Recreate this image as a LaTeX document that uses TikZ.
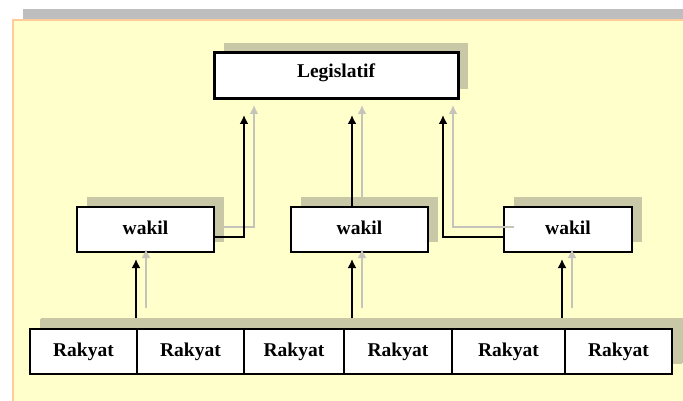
\documentclass[tikz,border=0pt]{standalone}
\usepackage{fontspec}
\setmainfont{Liberation Serif}
\usepackage{tikz}
\usetikzlibrary{arrows.meta, shadows, positioning}
\definecolor{paper}{RGB}{255,255,204}
\definecolor{paperedge}{RGB}{255,204,153}
\definecolor{bandgray}{RGB}{190,190,190}
\definecolor{boxshade}{RGB}{200,200,166}
\definecolor{lineshade}{RGB}{196,196,186}
\tikzstyle{arrow} = [line width=2pt,-{Latex[length=9pt,width=9pt]}]
\tikzstyle{unit} = [rectangle, draw, fill=white, line width=1.2pt, outer sep=0pt, text depth=4.5pt, font=\bfseries\fontsize{19.5}{22}\selectfont, drop shadow={shadow xshift=10pt, shadow yshift=10pt, fill=boxshade, opacity=1}]
\tikzstyle{cell} = [unit, minimum height=45pt, drop shadow={shadow xshift=11pt, shadow yshift=11pt, fill=boxshade, opacity=1}]

\begin{document}
\begin{tikzpicture}[x=1pt, y=-1pt]
\useasboundingbox (0,0) rectangle (683,401);
\clip (0,0) rectangle (683,401);

% background
\fill [bandgray] (23,9) rectangle (690,19);
\draw [paperedge, fill=paper, line width=2pt] (13,20) rectangle (700,420);

% boxes
\node [unit, line width=3pt, text depth=10pt, minimum width=244pt, minimum height=46pt] (leg) at (336,76) {Legislatif};

\node [unit, minimum width=137pt, minimum height=45pt] (w1) at (145.5,229.5) {wakil};
\node [unit, minimum width=137pt, minimum height=45pt] (w2) at (359.5,229.5) {wakil};
\node [unit, minimum width=128pt, minimum height=45pt] (w3) at (568,229.5) {wakil};

\node [cell, minimum width=107pt] (r1) at (83.5,351.5) {Rakyat};
\node [cell, minimum width=107pt] (r2) [right=0pt of r1] {Rakyat};
\node [cell, minimum width=100pt] (r3) [right=0pt of r2] {Rakyat};
\node [cell, minimum width=108pt] (r4) [right=0pt of r3] {Rakyat};
\node [cell, minimum width=113pt] (r5) [right=0pt of r4] {Rakyat};
\node [cell, minimum width=107pt] (r6) [right=0pt of r5] {Rakyat};

\coordinate (t1) at (136,318);
\coordinate (t2) at (352,318);
\coordinate (t3) at (562,318);
\coordinate (k1) at (244,100);
\coordinate (k2) at (352,100);
\coordinate (k3) at (443,100);

% shade of the arrows
\begin{scope}[transform canvas={shift={(10pt,10pt)}}, lineshade]
\draw [arrow, shorten >=7pt] (t1) -- (t1 |- w1.south);
\draw [arrow, shorten >=7pt] (t2) -- (t2 |- w2.south);
\draw [arrow, shorten >=7pt] (t3) -- (t3 |- w3.south);
\draw [arrow, shorten >=15pt] ([yshift=-7pt]w1.east) -| (k1);
\draw [arrow, shorten >=15pt] (w2.north -| k2) -- (k2);
\draw [arrow, shorten >=15pt] ([yshift=-7pt]w3.west) -| (k3);
\end{scope}

% arrows
\draw [arrow, shorten >=7pt] (t1) -- (t1 |- w1.south);
\draw [arrow, shorten >=7pt] (t2) -- (t2 |- w2.south);
\draw [arrow, shorten >=7pt] (t3) -- (t3 |- w3.south);
\draw [arrow, shorten >=15pt] ([yshift=-7pt]w1.east) -| (k1);
\draw [arrow, shorten >=15pt] (w2.north -| k2) -- (k2);
\draw [arrow, shorten >=15pt] ([yshift=-7pt]w3.west) -| (k3);

\end{tikzpicture}
\end{document}
